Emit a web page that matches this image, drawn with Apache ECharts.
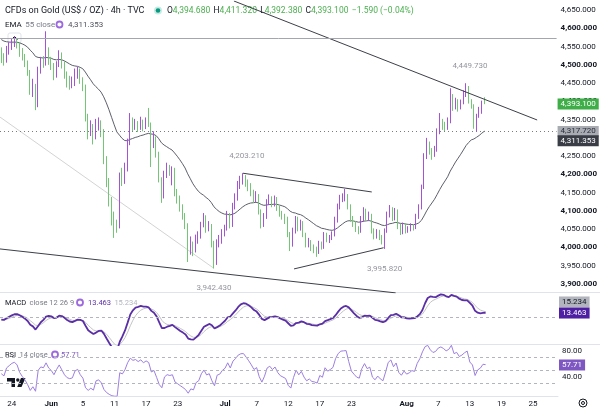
<!DOCTYPE html>
<html>
<head>
<meta charset="utf-8">
<script src="https://cdn.jsdelivr.net/npm/echarts@6/dist/echarts.min.js"></script>
<style>
html, body { margin: 0; padding: 0; background: #fff; }
#container { width: 600px; height: 412px; }
</style>
</head>
<body>
<div id="container"></div>
<script>
// bars: [open, high, low, close], one bar = 8h of the 4h chart
var bars = [
  [4530,4548,4505,4520],[4520,4532,4498,4510],[4510,4552,4506,4540],[4540,4562,4528,4550],
  [4550,4572,4541,4560],[4560,4578,4549,4565],[4565,4574,4545,4558],[4558,4562,4522,4535],
  [4535,4546,4512,4520],[4520,4530,4494,4505],[4505,4512,4470,4480],[4480,4486,4418,4430],
  [4430,4462,4412,4440],[4440,4448,4376,4390],[4390,4495,4384,4485],[4485,4522,4476,4510],
  [4510,4524,4492,4505],[4505,4592,4498,4540],[4540,4548,4500,4512],[4512,4522,4486,4498],
  [4498,4505,4458,4472],[4472,4510,4465,4500],[4500,4540,4494,4528],[4528,4534,4490,4502],
  [4502,4510,4462,4472],[4472,4482,4438,4452],[4452,4470,4432,4445],[4445,4468,4436,4448],
  [4448,4490,4442,4475],[4475,4495,4462,4482],[4482,4490,4448,4458],[4458,4466,4428,4440],
  [4440,4446,4345,4358],[4358,4366,4296,4320],[4320,4348,4305,4328],[4328,4338,4282,4302],
  [4302,4352,4296,4338],[4338,4356,4320,4342],[4342,4348,4302,4318],[4318,4324,4228,4240],
  [4240,4250,4165,4178],[4178,4190,4112,4128],[4128,4138,4060,4080],[4080,4098,4026,4062],
  [4062,4076,4040,4058],[4058,4205,4052,4192],[4192,4218,4168,4180],[4180,4232,4174,4215],
  [4215,4298,4208,4285],[4285,4368,4280,4345],[4345,4356,4318,4330],[4330,4352,4322,4340],
  [4340,4346,4316,4328],[4328,4358,4322,4345],[4345,4350,4318,4330],[4330,4356,4324,4345],
  [4345,4382,4330,4338],[4338,4342,4220,4290],[4290,4318,4272,4298],[4298,4304,4246,4255],
  [4255,4262,4178,4185],[4185,4192,4122,4140],[4140,4210,4134,4200],[4200,4232,4190,4215],
  [4215,4226,4196,4208],[4208,4222,4170,4212],[4212,4218,4140,4150],[4150,4160,4120,4132],
  [4132,4142,4098,4110],[4110,4118,4076,4088],[4088,4094,4050,4060],[4060,4066,3960,3990],
  [3990,4030,3980,4008],[4008,4016,3976,3992],[3992,4035,3986,4022],[4022,4044,4010,4030],
  [4030,4070,4024,4062],[4062,4094,4055,4082],[4082,4088,4040,4052],[4052,4072,4044,4058],
  [4058,4064,4000,4010],[4010,4018,3942.43,3958],[3958,4022,3952,4012],[4012,4034,4000,4018],
  [4018,4050,4010,4040],[4040,4062,4030,4052],[4052,4100,4046,4088],[4088,4094,4052,4062],
  [4062,4122,4056,4112],[4112,4148,4104,4135],[4135,4182,4128,4172],[4172,4196,4160,4188],
  [4188,4203.21,4172,4190],[4190,4198,4166,4178],[4178,4186,4154,4165],[4165,4176,4140,4150],
  [4150,4158,4122,4132],[4132,4154,4124,4140],[4140,4146,4090,4098],[4098,4104,4052,4062],
  [4062,4094,4056,4085],[4085,4132,4078,4125],[4125,4145,4116,4135],[4135,4140,4110,4120],
  [4120,4142,4112,4132],[4132,4138,4100,4108],[4108,4115,4084,4092],[4092,4100,4076,4085],
  [4085,4092,4064,4078],[4078,4084,4028,4035],[4035,4042,3990,4010],[4010,4054,4002,4045],
  [4045,4086,4038,4078],[4078,4084,4044,4052],[4052,4076,4046,4068],[4068,4072,4028,4035],
  [4035,4040,4000,4008],[4008,4026,4000,4015],[4015,4020,3990,3998],[3998,4008,3984,3995],
  [3995,4002,3974,3988],[3988,4018,3982,4010],[4010,4016,3994,4002],[4002,4042,3996,4035],
  [4035,4040,4014,4022],[4022,4034,4012,4028],[4028,4044,4020,4035],[4035,4084,4030,4075],
  [4075,4120,4068,4112],[4112,4144,4104,4135],[4135,4148,4124,4138],[4138,4160,4126,4140],
  [4140,4146,4104,4112],[4112,4118,4070,4078],[4078,4086,4056,4064],[4064,4072,4042,4050],
  [4050,4058,4036,4045],[4045,4086,4040,4078],[4078,4110,4070,4100],[4100,4106,4074,4082],
  [4082,4098,4072,4088],[4088,4092,4038,4045],[4045,4052,4022,4030],[4030,4050,4024,4042],
  [4042,4048,4020,4028],[4028,4034,4008,4018],[4018,4052,3995.82,4045],[4045,4098,4040,4090],
  [4090,4116,4082,4105],[4105,4110,4072,4080],[4080,4108,4074,4100],[4100,4104,4050,4058],
  [4058,4064,4034,4042],[4042,4068,4036,4060],[4060,4066,4038,4045],[4045,4058,4040,4050],
  [4050,4066,4044,4058],[4058,4064,4046,4055],[4055,4092,4050,4085],[4085,4118,4078,4110],
  [4110,4172,4104,4165],[4165,4258,4160,4250],[4250,4300,4242,4282],[4282,4290,4254,4265],
  [4265,4272,4240,4255],[4255,4278,4248,4268],[4268,4326,4262,4318],[4318,4368,4310,4340],
  [4340,4352,4322,4335],[4335,4344,4318,4328],[4328,4356,4322,4345],[4345,4436,4340,4415],
  [4415,4420,4374,4385],[4385,4410,4378,4400],[4400,4406,4372,4385],[4385,4405,4378,4398],
  [4398,4430,4392,4420],[4420,4449.73,4412,4438],[4438,4442,4394,4400],[4400,4406,4380,4388],
  [4388,4392,4325,4332],[4332,4366,4317.72,4362],[4362,4385,4355,4372],[4372,4402,4366,4394.69],
  [4394.68,4411.32,4392.38,4393.10]
];

var tickSessions = ['2026-05-25','2026-06-01','2026-06-05','2026-06-11','2026-06-17','2026-06-23',
  '2026-07-01','2026-07-07','2026-07-13','2026-07-17','2026-07-23','2026-08-03','2026-08-07',
  '2026-08-13','2026-08-19','2026-08-25'];
var tickText = ['24','Jun','5','11','17','23','Jul','7','12','17','23','Aug','7','13','19','25'];

// read-outs shown in the legends / price scale
var emaNow = 4311.353;
var macdNow = 13.463;
var signalNow = 15.234;
var rsiNow = 57.71;

// indicator state at the left edge (estimated)
var emaStart = 4573;
var macdStart = [4522, 4530, -8];   // fast ema, slow ema, signal
var rsiStart = [10, 11];            // avg gain, avg loss

// drawings: [bar index, price]
var hLevel = 4573;
var dottedLevel = 4317.72;
var trendLines = [
  [[88.6, 4675], [204.1, 4349]],
  [[-0.5, 3995.7], [150.2, 3875.3]],
  [[92, 4203.21], [141.1, 4151.8]],
  [[111.5, 3941], [145.6, 3999]]
];
var faintLine = [[-0.5, 4357], [81, 3942.43]];
var pivots = [[177, 4449.73, 'H'], [92, 4203.21, 'H'], [146, 3995.82, 'L'], [81, 3942.43, 'L']];

var UP = '#a652d6', DOWN = '#74c576';
var FONT = 'Roboto';
var NONE = 'rgba(0,0,0,0)';
var nCats = 212;

// categories: 3 bars per session, weekdays only
var categories = [];
(function () {
  var d = new Date(Date.UTC(2026, 4, 21)), skip = 2;
  while (categories.length < nCats) {
    var wd = d.getUTCDay();
    if (wd !== 0 && wd !== 6) {
      var key = d.toISOString().slice(0, 10);
      for (var b = 0; b < 3 && categories.length < nCats; b++) {
        if (skip > 0) { skip--; continue; }
        categories.push(key + ' #' + (b + 1));
      }
    }
    d.setUTCDate(d.getUTCDate() + 1);
  }
})();

function fmt(v, d) {
  var s = Math.abs(v).toFixed(d).split('.');
  s[0] = s[0].replace(/\B(?=(\d{3})+(?!\d))/g, ',');
  return (v < 0 ? '\u2212' : '') + s.join('.');
}

// one plotted bar covers two 4h bars
var step = 2;
function emaCalc(vals, n, seed) {
  var a = 1 - Math.pow(1 - 2 / (n + 1), step), e = seed, out = [];
  for (var i = 0; i < vals.length; i++) { e = e + a * (vals[i] - e); out.push(e); }
  return out;
}
var closes = bars.map(function (b) { return b[3]; });
var emaLine = emaCalc(closes, 55, emaStart);
var fast = emaCalc(closes, 12, macdStart[0]);
var slow = emaCalc(closes, 26, macdStart[1]);
var macd = fast.map(function (f, i) { return f - slow[i]; });
var signal = emaCalc(macd, 9, macdStart[2]);
var rsi = [];
(function () {
  var a = 1 - Math.pow(1 - 1 / 14, step), g = rsiStart[0], l = rsiStart[1];
  for (var i = 0; i < closes.length; i++) {
    var prev = i ? closes[i - 1] : bars[0][0];
    var ch = closes[i] - prev;
    g = g + a * (Math.max(ch, 0) - g);
    l = l + a * (Math.max(-ch, 0) - l);
    rsi.push(100 - 100 / (1 + g / l));
  }
})();

var candleData = bars.map(function (b) { return [b[0], b[3], b[2], b[1]]; });
var last = bars[bars.length - 1];
var prevClose = bars[bars.length - 2][3];
var change = last[3] - prevClose;

// pane scales
var pMin = 3875, pMax = 4675, mainTop = 1, mainH = 292;
var mMin = -75.7, mMax = 67.6, macdTop = 292, macdH = 53;
function shift(value, px, span, h) { return value - px * span / h; }

function tag(value, text, bg, fg, line) {
  return {
    yAxis: value,
    lineStyle: line || { color: NONE, width: 1 },
    label: {
      show: true, position: 'end', distance: 1, formatter: text,
      backgroundColor: bg, color: fg, padding: [2, 3, 1, 3],
      fontSize: 8, fontFamily: FONT
    }
  };
}

var dom = document.getElementById('container');
var myChart = echarts.init(dom);

var lineSeries = trendLines.map(function (seg) {
  return {
    type: 'line', xAxisIndex: 3, yAxisIndex: 0, data: seg, symbol: 'none',
    lineStyle: { color: '#3c3f48', width: 1 }, silent: true, animation: false, z: 4
  };
});
lineSeries.push({
  type: 'line', xAxisIndex: 3, yAxisIndex: 0, data: faintLine, symbol: 'none',
  lineStyle: { color: '#d3d3d3', width: 1 }, silent: true, animation: false, z: 1
});

var option = {
  backgroundColor: '#fff',
  animation: false,
  textStyle: { fontFamily: FONT },
  grid: [
    { left: 0, right: 42, top: mainTop, height: mainH },
    { left: 0, right: 42, top: macdTop, height: macdH },
    { left: 0, right: 42, top: 344, height: 52 }
  ],
  xAxis: [
    { type: 'category', gridIndex: 0, data: categories, show: false },
    { type: 'category', gridIndex: 1, data: categories, show: false },
    {
      type: 'category', gridIndex: 2, data: categories,
      axisLine: { show: true, lineStyle: { color: '#e0e3eb' } },
      axisTick: { show: false },
      axisLabel: {
        margin: 4,
        interval: function (i, v) {
          return /#1$/.test(v) && tickSessions.indexOf(v.slice(0, 10)) >= 0;
        },
        formatter: function (v) {
          var t = tickText[tickSessions.indexOf(v.slice(0, 10))];
          return /^[A-Z]/.test(t) ? '{m|' + t + '}' : '{d|' + t + '}';
        },
        rich: {
          d: { fontSize: 8, color: '#131722', fontFamily: FONT },
          m: { fontSize: 8, color: '#131722', fontWeight: 'bold', fontFamily: FONT }
        }
      }
    },
    { type: 'value', gridIndex: 0, min: -0.5, max: nCats - 0.5, show: false }
  ],
  yAxis: [
    {
      type: 'value', gridIndex: 0, position: 'right', min: pMin, max: pMax, interval: 25,
      axisLine: { show: false }, axisTick: { show: false }, splitLine: { show: false },
      axisLabel: {
        margin: 4,
        formatter: function (v) {
          if (v % 50) return '';
          return (v % 100 ? '{n|' : '{b|') + fmt(v, 3) + '}';
        },
        rich: {
          n: { fontSize: 8, color: '#131722', fontFamily: FONT },
          b: { fontSize: 8, color: '#131722', fontWeight: 'bold', fontFamily: FONT }
        }
      }
    },
    {
      type: 'value', gridIndex: 1, position: 'right', min: mMin, max: mMax,
      axisLine: { show: false }, axisTick: { show: false }, splitLine: { show: false },
      axisLabel: { show: false }
    },
    {
      type: 'value', gridIndex: 2, position: 'right', min: 10, max: 90, interval: 10,
      axisLine: { show: false }, axisTick: { show: false }, splitLine: { show: false },
      axisLabel: {
        margin: 4, fontSize: 8, color: '#131722', fontFamily: FONT,
        formatter: function (v) { return (v === 40 || v === 80) ? v.toFixed(2) : ''; }
      }
    }
  ],
  series: [
    {
      type: 'candlestick', xAxisIndex: 0, yAxisIndex: 0, data: candleData,
      barWidth: 1.2, z: 3,
      itemStyle: { color: UP, color0: DOWN, borderColor: UP, borderColor0: DOWN, borderWidth: 1 },
      markLine: {
        silent: true, symbol: ['none', 'none'], animation: false,
        data: [
          { yAxis: hLevel, lineStyle: { color: '#a3a6af', width: 1, type: 'solid' }, label: { show: false } },
          tag(dottedLevel, fmt(dottedLevel, 3), '#a9abb3', '#2a2e39', { color: '#787b86', width: 1, type: [1, 3] }),
          tag(last[3], fmt(last[3], 3), '#3fae49', '#fff'),
          tag(shift(emaNow, 7, pMax - pMin, mainH), fmt(emaNow, 3), '#3a3d46', '#fff')
        ]
      }
    },
    {
      type: 'line', xAxisIndex: 0, yAxisIndex: 0, data: emaLine, symbol: 'none',
      lineStyle: { color: '#5d606b', width: 1 }, z: 2, silent: true
    },
    {
      type: 'scatter', xAxisIndex: 3, yAxisIndex: 0, symbolSize: 0, silent: true, z: 5,
      data: pivots.map(function (p) {
        return {
          value: [p[0], p[1]],
          label: {
            show: true, formatter: fmt(p[1], 3), position: 'inside',
            offset: p[2] === 'H' ? [4, -17] : [0, 20],
            color: '#787b86', fontSize: 8, fontFamily: FONT
          }
        };
      })
    },
    {
      type: 'line', xAxisIndex: 1, yAxisIndex: 1, data: signal, symbol: 'none',
      lineStyle: { color: '#c3c3c3', width: 1 }, silent: true
    },
    {
      type: 'line', xAxisIndex: 1, yAxisIndex: 1, data: macd, symbol: 'none',
      lineStyle: { color: '#5a2ea6', width: 1.8 }, silent: true,
      markLine: {
        silent: true, symbol: ['none', 'none'], animation: false,
        data: [
          { yAxis: 0, lineStyle: { color: '#b2b5be', width: 1, type: [3, 3] }, label: { show: false } },
          tag(shift(signalNow, -9.4, mMax - mMin, macdH), fmt(signalNow, 3), '#b2b5be', '#131722'),
          tag(shift(macdNow, 1, mMax - mMin, macdH), fmt(macdNow, 3), '#4f1fa3', '#fff')
        ]
      }
    },
    {
      type: 'line', xAxisIndex: 2, yAxisIndex: 2, data: rsi, symbol: 'none',
      lineStyle: { color: '#9c7fe0', width: 1 }, silent: true,
      markLine: {
        silent: true, symbol: ['none', 'none'], animation: false,
        data: [
          { yAxis: 70, lineStyle: { color: '#b2b5be', width: 1, type: [3, 3] }, label: { show: false } },
          { yAxis: 50, lineStyle: { color: '#b2b5be', width: 1, type: [3, 3] }, label: { show: false } },
          { yAxis: 30, lineStyle: { color: '#b2b5be', width: 1, type: [3, 3] }, label: { show: false } },
          tag(rsiNow, rsiNow.toFixed(2), '#7e57c2', '#fff')
        ]
      }
    }
  ].concat(lineSeries),
  graphic: [
    { type: 'line', shape: { x1: 0, y1: 292.5, x2: 600, y2: 292.5 }, style: { stroke: '#e0e3eb', lineWidth: 1 }, silent: true },
    { type: 'line', shape: { x1: 0, y1: 344.5, x2: 600, y2: 344.5 }, style: { stroke: '#e0e3eb', lineWidth: 1 }, silent: true },
    {
      type: 'text', x: 5, y: 11, silent: true,
      style: { text: 'CFDs on Gold (US$ / OZ) \u00b7 4h \u00b7 TVC', font: '9px ' + FONT, fill: '#131722', verticalAlign: 'middle' }
    },
    { type: 'circle', shape: { cx: 158, cy: 10.5, r: 4 }, style: { fill: '#c8ece5' }, silent: true },
    { type: 'circle', shape: { cx: 158, cy: 10.5, r: 2.3 }, style: { fill: '#089981' }, silent: true },
    {
      type: 'text', x: 167, y: 11, silent: true,
      style: {
        text: '{k|O}{v|' + fmt(last[0], 3) + '} {k|H}{v|' + fmt(last[1], 3) + '} {k|L}{v|' + fmt(last[2], 3) +
          '} {k|C}{v|' + fmt(last[3], 3) + '} {v|' + fmt(change, 3) + ' (' + fmt(change / prevClose * 100, 2) + '%)}',
        verticalAlign: 'middle',
        rich: {
          k: { fill: '#131722', font: '8.5px ' + FONT },
          v: { fill: '#4caf50', font: '8.5px ' + FONT }
        }
      }
    },
    {
      type: 'text', x: 5, y: 25, silent: true,
      style: {
        text: '{a|EMA} {b|55 close}', verticalAlign: 'middle',
        rich: { a: { fill: '#131722', font: '8px ' + FONT }, b: { fill: '#787b86', font: '8px ' + FONT } }
      }
    },
    { type: 'circle', shape: { cx: 59.5, cy: 24.5, r: 3 }, style: { fill: '#fff', stroke: '#9c6ade', lineWidth: 1.8 }, silent: true },
    { type: 'text', x: 68, y: 25, silent: true, style: { text: fmt(emaNow, 3), font: '8px ' + FONT, fill: '#50535e', verticalAlign: 'middle' } },
    {
      type: 'text', x: 5, y: 303, silent: true,
      style: {
        text: '{a|MACD} {b|close 12 26 9}', verticalAlign: 'middle',
        rich: { a: { fill: '#131722', font: '7.5px ' + FONT }, b: { fill: '#787b86', font: '7.5px ' + FONT } }
      }
    },
    { type: 'circle', shape: { cx: 80, cy: 302.5, r: 3 }, style: { fill: '#fff', stroke: '#9c6ade', lineWidth: 1.8 }, silent: true },
    {
      type: 'text', x: 88, y: 303, silent: true,
      style: {
        text: '{p|' + fmt(macdNow, 3) + '} {g|' + fmt(signalNow, 3) + '}', verticalAlign: 'middle',
        rich: { p: { fill: '#5a2ea6', font: '7.5px ' + FONT }, g: { fill: '#b2b5be', font: '7.5px ' + FONT } }
      }
    },
    {
      type: 'text', x: 5, y: 355, silent: true,
      style: {
        text: '{a|RSI} {b|14 close}', verticalAlign: 'middle',
        rich: { a: { fill: '#131722', font: '7.5px ' + FONT }, b: { fill: '#787b86', font: '7.5px ' + FONT } }
      }
    },
    { type: 'circle', shape: { cx: 55, cy: 354.5, r: 3 }, style: { fill: '#fff', stroke: '#9c6ade', lineWidth: 1.8 }, silent: true },
    { type: 'text', x: 61, y: 355, silent: true, style: { text: rsiNow.toFixed(2), font: '7.5px ' + FONT, fill: '#7e57c2', verticalAlign: 'middle' } },
    // collapse button
    { type: 'rect', shape: { x: 8, y: 33, width: 13, height: 10, r: 2 }, style: { fill: '#fff', stroke: '#e0e3eb' }, silent: true },
    { type: 'polyline', shape: { points: [[11.5, 39.5], [14.5, 36.5], [17.5, 39.5]] }, style: { stroke: '#131722', lineWidth: 1, fill: null }, silent: true },
    // TradingView logo
    { type: 'polygon', shape: { points: [[7, 378], [15, 378], [15, 387], [11.5, 387], [11.5, 381.5], [7, 381.5]] }, style: { fill: '#131722' }, silent: true },
    { type: 'circle', shape: { cx: 17.8, cy: 380, r: 1.7 }, style: { fill: '#131722' }, silent: true },
    { type: 'polygon', shape: { points: [[21, 378], [25.5, 378], [21.5, 387], [17.2, 387]] }, style: { fill: '#131722' }, silent: true },
    // settings gear
    { type: 'circle', shape: { cx: 583, cy: 403, r: 4 }, style: { fill: '#fff', stroke: '#131722', lineWidth: 1 }, silent: true },
    { type: 'circle', shape: { cx: 583, cy: 403, r: 1.5 }, style: { fill: '#fff', stroke: '#131722', lineWidth: 1 }, silent: true }
  ]
};

if (option && typeof option === 'object') {
  myChart.setOption(option, true);
}
</script>
</body>
</html>
